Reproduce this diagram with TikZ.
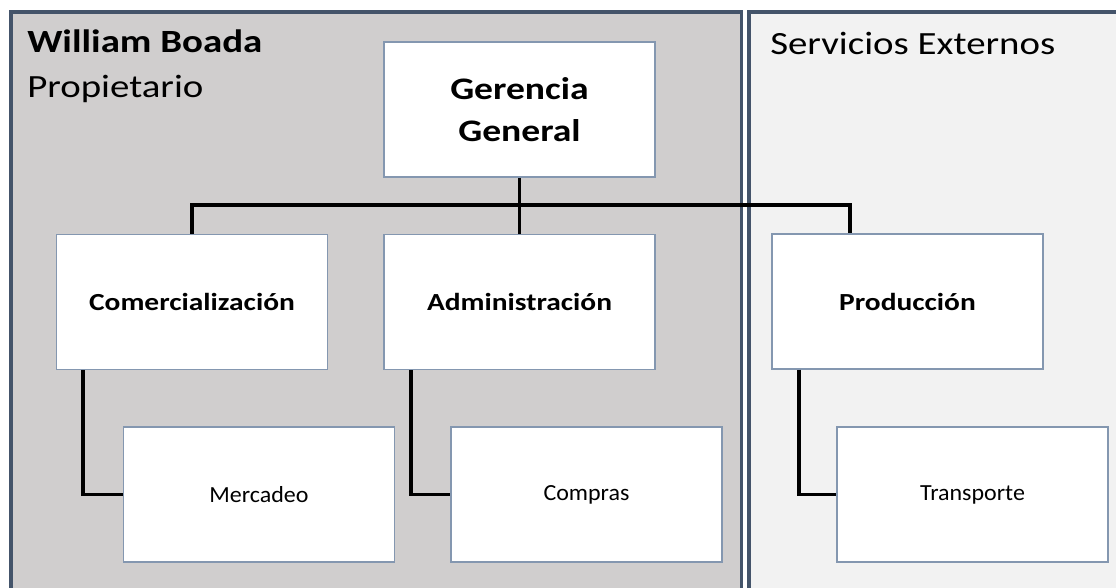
\documentclass[tikz,border=0pt]{standalone}
\usepackage{fontspec}
\setmainfont{Carlito}[FakeStretch=1.2]
\newfontfamily\lowfam{Carlito}[FakeStretch=1.04]
\definecolor{leftfill}{HTML}{D0CECE}
\definecolor{rightfill}{HTML}{F2F2F2}
\definecolor{panelline}{HTML}{44546A}
\definecolor{boxline}{HTML}{8497B0}
\begin{document}
\begin{tikzpicture}[x=0.75pt,y=-0.75pt,
  panel/.style={draw=panelline,line width=2.4pt},
  unit/.style={draw=boxline,line width=0.8pt,fill=white,inner sep=0pt,
    minimum width=203.25pt,minimum height=101.25pt,align=center},
  conn/.style={draw=black,line width=2.3pt},
  heading/.style={inner sep=0pt,anchor=base west,font=\fontsize{24.3}{28}\selectfont},
  topfont/.style={font=\fontsize{23.5}{31.5}\selectfont\bfseries},
  midfont/.style={font=\fontsize{18.4}{22}\selectfont\bfseries},
  lowfont/.style={font=\lowfam\fontsize{17.3}{21}\selectfont}]
\clip (0,0) rectangle (1116,587);
\fill[white] (0,0) rectangle (1116,587);
% the two areas of the chart
\draw[panel,fill=leftfill] (11,12) rectangle (741.5,640);
\draw[panel,fill=rightfill] (749,12) rectangle (1150,640);
% area headings
\node[heading,font=\fontsize{24.3}{28}\selectfont\bfseries] (owner) at (27,52) {William Boada};
\node[heading] (role) at (27,97) {Propietario};
\node[heading] (ext) at (770,54) {Servicios Externos};
% units
\node[unit,topfont] (ger) at (519.5,109.5) {Gerencia\\General};
\node[unit,midfont] (com) at (192,302) {Comercialización};
\node[unit,midfont] (adm) at (519.5,302) {Administración};
\node[unit,midfont] (prod) at (907.5,301.5) {Producción};
\node[unit,lowfont] (mer) at (259,494.5) {Mercadeo};
\node[unit,lowfont] (comp) at (586.5,494.5) {Compras};
\node[unit,lowfont] (tra) at (972.5,494.5) {Transporte};
% connectors
\coordinate (pdrop) at (850,205);
\coordinate (mx) at (83,0);
\coordinate (cx) at (411,0);
\coordinate (tx) at (799,0);
\draw[conn] (ger.south) -- (adm.north);
\draw[conn] (com.north) |- (pdrop) -- (pdrop |- prod.north);
\draw[conn] (com.south -| mx) |- (mer.west);
\draw[conn] (adm.south -| cx) |- (comp.west);
\draw[conn] (prod.south -| tx) |- (tra.west);
\end{tikzpicture}
\end{document}
